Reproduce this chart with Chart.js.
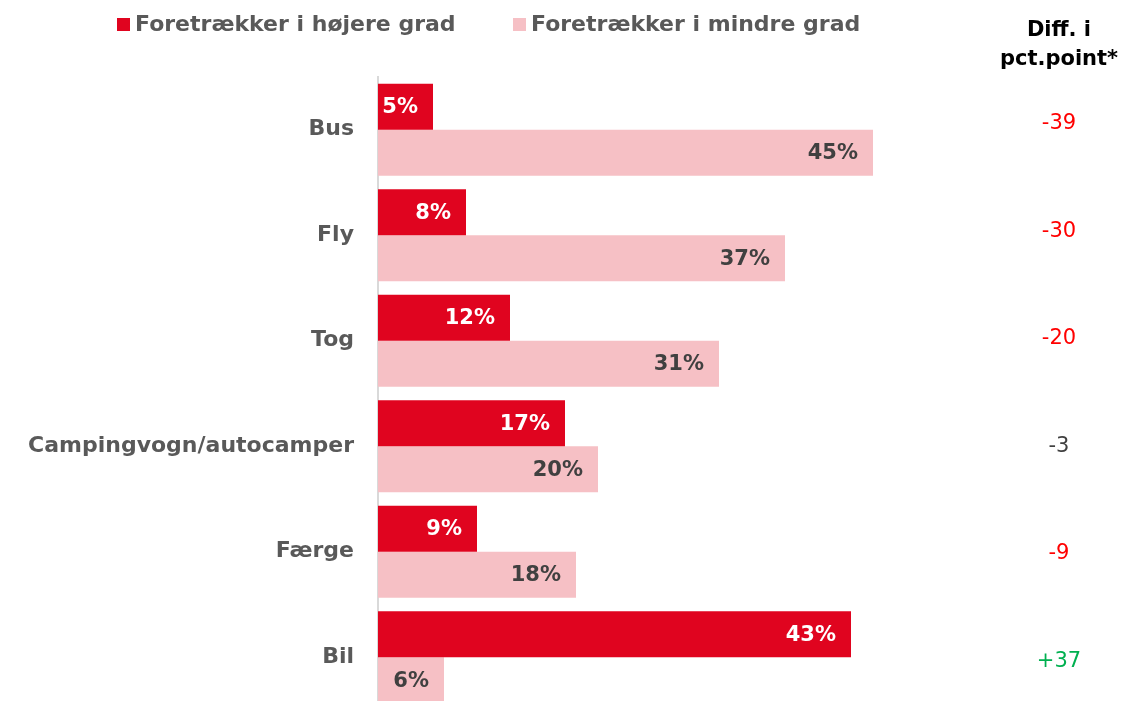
<!DOCTYPE html>
<html>
<head>
<meta charset="utf-8">
<script src="https://cdn.jsdelivr.net/npm/chart.js@4"></script>
<style>
  html, body { margin: 0; padding: 0; background: #fff; overflow: hidden; }
  canvas { display: block; }
</style>
</head>
<body>
<canvas id="chart" width="1124" height="710"></canvas>
<script>
// ── Data ────────────────────────────────────────────────────
const categories  = ['Bus', 'Fly', 'Tog', 'Campingvogn/autocamper', 'Færge', 'Bil'];
const seriesNames = ['Foretrækker i højere grad', 'Foretrækker i mindre grad'];
const higher      = [5, 8, 12, 17, 9, 43];
const lower       = [45, 37, 31, 20, 18, 6];
const diffs       = ['-39', '-30', '-20', '-3', '-9', '+37'];
const diffColors  = ['#ff0000', '#ff0000', '#ff0000', '#404040', '#ff0000', '#00b050'];
const diffTitle   = ['Diff. i', 'pct.point*'];

const RED  = '#e0041f';
const PINK = '#f6c0c5';
const FONT = '"DejaVu Sans", sans-serif';

// value labels inside bar ends
const valueLabels = {
  id: 'valueLabels',
  afterDatasetsDraw(chart) {
    const c = chart.ctx;
    c.save();
    c.font = `bold 21px ${FONT}`;
    c.textAlign = 'right';
    c.textBaseline = 'middle';
    chart.data.datasets.forEach((ds, di) => {
      chart.getDatasetMeta(di).data.forEach((bar, i) => {
        c.fillStyle = di === 0 ? '#ffffff' : '#404040';
        c.fillText(ds.data[i] + '%', bar.x - 15, bar.y + 1);
      });
    });
    c.restore();
  }
};

// legend at top + diff column on the right
const extras = {
  id: 'extras',
  afterDraw(chart) {
    const c = chart.ctx;
    const y = chart.scales.y;
    c.save();

    // legend
    c.font = `600 22px ${FONT}`;
    c.textBaseline = 'middle';
    c.textAlign = 'left';
    const legendX = [117, 513];
    chart.data.datasets.forEach((ds, i) => {
      c.fillStyle = ds.backgroundColor;
      c.fillRect(legendX[i], 18, 13, 13);
      c.fillStyle = '#595959';
      c.fillText(ds.label, legendX[i] + 18, 25);
    });

    // diff column (rows sit slightly further apart than the bar bands)
    const cx = 1059;
    c.textAlign = 'center';
    c.fillStyle = '#000000';
    c.font = `bold 21px ${FONT}`;
    c.fillText(diffTitle[0], cx, 31);
    c.fillText(diffTitle[1], cx, 60);
    c.font = `21px ${FONT}`;
    categories.forEach((_, i) => {
      c.fillStyle = diffColors[i];
      c.fillText(diffs[i], cx, y.getPixelForValue(i) - 6 + i * 2);
    });
    c.restore();
  }
};

new Chart(document.getElementById('chart'), {
  type: 'bar',
  data: {
    labels: categories,
    datasets: [
      { label: seriesNames[0], data: higher, backgroundColor: RED },
      { label: seriesNames[1], data: lower,  backgroundColor: PINK },
    ],
  },
  options: {
    indexAxis: 'y',
    responsive: false,
    animation: false,
    categoryPercentage: 0.873,
    barPercentage: 1,
    layout: { padding: { top: 77, right: 196, bottom: 0, left: 0 } },
    plugins: {
      legend:  { display: false },
      tooltip: { enabled: false },
    },
    scales: {
      x: { display: false, min: 0, max: 50 },
      y: {
        grid:   { display: false },
        border: { display: true, color: '#d9d9d9', width: 2 },
        ticks:  { color: '#595959', padding: 16, font: { family: FONT, size: 22, weight: '600' } },
        afterFit(scale) {
          scale.width = 378;
          scale.paddingTop = 0;
          scale.paddingBottom = 0;
        },
      },
    },
  },
  plugins: [valueLabels, extras],
});
</script>
</body>
</html>
